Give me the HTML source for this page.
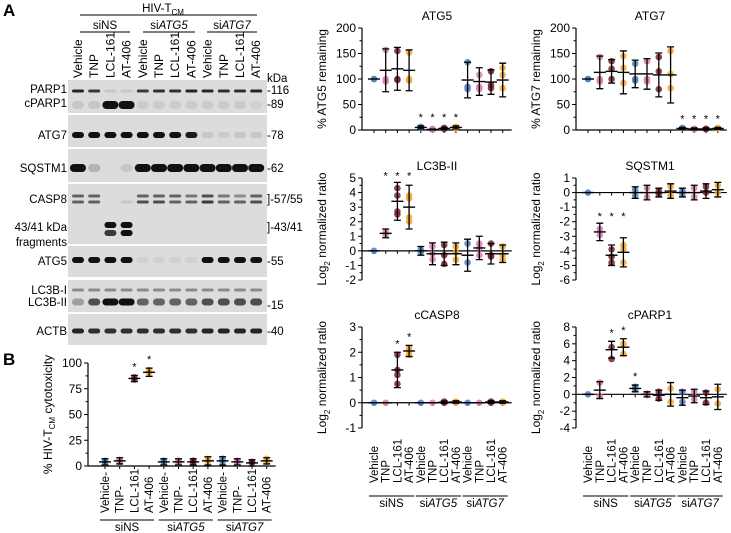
<!DOCTYPE html>
<html><head><meta charset="utf-8"><style>
html,body{margin:0;padding:0;background:#fff;}
svg{display:block;font-family:"Liberation Sans",Arial,sans-serif;}
</style></head><body>
<svg id="fig" width="731" height="533" viewBox="0 0 731 533" xmlns="http://www.w3.org/2000/svg"></svg>
<script>
const NS="http://www.w3.org/2000/svg";
const svg=document.getElementById('fig');
const categories=['Vehicle','TNP','LCL-161','AT-406','Vehicle','TNP','LCL-161','AT-406','Vehicle','TNP','LCL-161','AT-406'];
const groupLabels=['siNS','ATG5','ATG7'];
const colors=['#4f7fbf','#d77bb3','#7a2232','#f0a830'];

// ATG5
const atg5Means=[100,117,120,117,5,1,3,5,98,95,94,98];
const atg5Err=[0,42,42,40,3,1,2,3,35,27,24,33];
const atg5Pts=[[100,100],[157,100,95],[155,100,98],[152,100,97],[6,4,5],[1,1,2],[3,2,4],[5,6,3],[133,85,80],[108,85,80],[115,88,82],[122,108,82]];
const atg5Stars=[4,5,6,7];
const atg5Ticks=[0,50,100,150,200];
// ATG7
const atg7Means=[100,113,115,113,110,110,108,108,3,2,2,3];
const atg7Err=[0,32,23,42,27,30,43,55,2,2,2,2];
const atg7Pts=[[100,100],[143,100,95],[135,120,100],[145,122,92],[130,100,97],[135,100,95],[143,115,80],[155,110,82],[4,3],[2,2],[2,2],[3,4]];
const atg7Stars=[8,9,10,11];
const atg7Ticks=[0,50,100,150,200];
// LC3B-II
const lc3Means=[0,1.2,3.4,3,0,-0.2,-0.2,-0.2,-0.3,0.2,-0.2,-0.2];
const lc3Err=[0,0.3,1.3,1.5,0.3,0.75,0.8,0.75,1.1,0.8,0.7,0.6];
const lc3Pts=[[0],[1.3,1.1],[4.3,3.8,2.7,2.5],[3.8,3.6,2.3,2],[0.1,-0.1],[0.3,-0.6,-0.2],[0.4,-0.9,-0.3],[0.3,-0.6,-0.1],[0.5,-0.8],[0.5,0.2,-0.3],[0.5,-0.4,-0.3],[0.3,-0.6,-0.3]];
const lc3Stars=[1,2,3];
const lc3Ticks=[-2,-1,0,1,2,3,4,5];
// SQSTM1
const sqMeans=[0,-2.7,-4.3,-4.1,0,0,0,0.1,0,0,0.1,0.2];
const sqErr=[0,0.6,0.7,1,0.4,0.5,0.3,0.5,0.3,0.5,0.5,0.5];
const sqPts=[[0],[-2.5,-2.9],[-3.9,-4.4,-4.8],[-3.6,-3.9,-4.8],[0.2,-0.2],[0.3,-0.3],[0.1,-0.1],[0.4,-0.2],[0.1,-0.1],[0.3,-0.3],[0.4,0],[0.5,0]];
const sqStars=[1,2,3];
const sqTicks=[-6,-5,-4,-3,-2,-1,0,1];
// cCASP8
const c8Means=[0,0,1.3,2.05,0,0,0.02,0.03,0,0,0.03,0.03];
const c8Err=[0,0,0.7,0.22,0,0,0.05,0.05,0,0,0.05,0.05];
const c8Pts=[[0],[0],[1.9,1.3,1.1,0.75],[2.15,2.05,1.9],[0],[0],[0.05,0],[0.05,0],[0],[0],[0.05,0],[0.05,0]];
const c8Stars=[2,3];
const c8Ticks=[-1,0,1,2,3];
// cPARP1
const cpMeans=[0,0.5,5.3,5.6,0.7,0,-0.1,0,-0.4,-0.2,-0.4,-0.3];
const cpErr=[0,1,1,1,0.4,0.3,0.6,1.4,0.9,0.8,0.8,1.5];
const cpPts=[[0],[1.4,-0.2],[5.6,4.2],[6,4.8],[0.9,0.6],[0.1,-0.1],[0.3,-0.5],[0.7,-0.9],[0.3,-0.9],[0.3,-0.6],[0.2,-1.0],[0.6,-1.1]];
const cpStars=[2,3,4];
const cpTicks=[-4,-2,0,2,4,6,8];
// Panel B cytotoxicity
const bMeans=[4,5,85,91,4,4,4,5,5,4,3,5];
const bErr=[3,3,3,4,3,3,3,4,4,3,3,3];
const bPts=[[5,3],[6,4],[86,84],[93,90],[5,3],[5,3],[5,3],[7,4],[7,4],[5,3],[4,3],[7,4]];
const bStars=[2,3];
const bTicks=[0,25,50,75,100];

function el(tag,attrs,parent,text){
  const e=document.createElementNS(NS,tag);
  for(const k in attrs) e.setAttribute(k,attrs[k]);
  if(text!==undefined) e.textContent=text;
  (parent||svg).appendChild(e);
  return e;
}

function chart(name,L,means,err,pts,stars,ticks,opt){
  const g=el('g',{},svg);
  
  
  const vmin=ticks[0],vmax=ticks[ticks.length-1];
  const y=v=>L.yb-(v-vmin)/(vmax-vmin)*(L.yb-L.yt);
  const x=i=>L.x0+i*L.dx;
  const ax=L.ax;
  const ya=el('line',{x1:ax,x2:ax,y1:L.yt,y2:L.yb,stroke:'#000','stroke-width':1.2},g);
  
  ticks.forEach((t,k)=>{
    el('line',{x1:ax-4,x2:ax,y1:y(t),y2:y(t),stroke:'#000','stroke-width':1},g);
    if(k<ticks.length-1&&opt.minor) el('line',{x1:ax-2.5,x2:ax,y1:(y(t)+y(ticks[k+1]))/2,y2:(y(t)+y(ticks[k+1]))/2,stroke:'#000','stroke-width':1},g);
    const tl=el('text',{x:ax-6,y:y(t)+4,'text-anchor':'end','font-size':12},g,String(t));
    
  });
  const z=y(opt.base||0);
  const xa=el('line',{x1:ax,x2:x(11)+9,y1:z,y2:z,stroke:'#000','stroke-width':1.2},g);
  
  for(let i=0;i<12;i++) el('line',{x1:x(i),x2:x(i),y1:z,y2:z+3,stroke:'#000','stroke-width':1},g);
  if(opt.title){const t=el('text',{x:opt.tx,y:L.yt-8,'text-anchor':'middle','font-size':12},g,opt.title);
    }
  const yt=el('text',{transform:`translate(${opt.ytx},${(L.yt+L.yb)/2}) rotate(-90)`,'text-anchor':'middle','font-size':12},g);
  
  opt.ytitle(yt);
  for(let i=0;i<12;i++){
    const c=colors[i%4];
    pts[i].forEach(v=>{
      const p=el('circle',{cx:x(i),cy:y(v),r:3.3,fill:c,'fill-opacity':0.85},g);
      
    });
    const m=means[i],e=err[i];
    if(e>0){
      const eb=el('path',{d:`M${x(i)},${y(m+e)}V${y(m-e)}M${x(i)-3.5},${y(m+e)}h7M${x(i)-3.5},${y(m-e)}h7`,stroke:'#000','stroke-width':1.3,fill:'none'},g);
      
    }
    const ml=el('line',{x1:x(i)-6,x2:x(i)+6,y1:y(m),y2:y(m),stroke:'#000','stroke-width':1.4},g);
    
  }
  // star row aligned above the tallest starred bar
  let rowTop=Infinity;
  stars.forEach(i=>{rowTop=Math.min(rowTop,y(means[i]+err[i]));});
  stars.forEach(i=>{
    const sy=opt.starRow?rowTop-(opt.starGap||8):y(means[i]+err[i])-5;
    const s=el('text',{x:x(i),y:sy,'text-anchor':'middle','font-size':11},g,'*');
    
  });
  if(opt.catBottom){
    categories.forEach((c,i)=>{
      const t=el('text',{transform:`translate(${x(i)+4},${opt.catBottom}) rotate(-90)`,'font-size':11.5},g,c+(opt.dash&&i%4<2?'-':''));
      
    });
    for(let gI=0;gI<3;gI++){
      const x1=x(gI*4)-5,x2=x(gI*4+3)+5;
      el('line',{x1:x1,x2:x2,y1:opt.groupY,y2:opt.groupY,stroke:'#000','stroke-width':1},g);
      const t=el('text',{x:(x1+x2)/2,y:opt.groupY+11,'text-anchor':'middle','font-size':11.5},g);
      
      el('tspan',{},t,'si');
      el('tspan',{'font-style':gI?'italic':'normal'},t,gI?groupLabels[gI]:'NS');
    }
  }
}
function logTitle(t){el('tspan',{},t,'Log');el('tspan',{'font-size':8,dy:4},t,'2');el('tspan',{dy:-4},t,' normalized ratio');}

chart('atg5',{ax:362,x0:374,dx:11.7,yt:28,yb:130},atg5Means,atg5Err,atg5Pts,atg5Stars,atg5Ticks,{minor:true,title:'ATG5',tx:437,ytx:326,starRow:true,starGap:5,ytitle:t=>t.textContent='% ATG5 remaining'});
chart('atg7',{ax:576,x0:588,dx:11.8,yt:28,yb:130},atg7Means,atg7Err,atg7Pts,atg7Stars,atg7Ticks,{minor:true,title:'ATG7',tx:650,ytx:540,starRow:true,starGap:5,ytitle:t=>t.textContent='% ATG7 remaining'});
chart('lc3b',{ax:362,x0:374,dx:11.7,yt:178,yb:280},lc3Means,lc3Err,lc3Pts,lc3Stars,lc3Ticks,{minor:true,title:'LC3B-II',tx:437,ytx:326,starRow:true,starGap:3,ytitle:logTitle});
chart('sqstm1',{ax:576,x0:588,dx:11.8,yt:178,yb:280},sqMeans,sqErr,sqPts,sqStars,sqTicks,{minor:true,title:'SQSTM1',tx:650,ytx:540,starRow:true,starGap:3,ytitle:logTitle});
chart('ccasp8',{ax:362,x0:374,dx:11.7,yt:327,yb:428},c8Means,c8Err,c8Pts,c8Stars,c8Ticks,{minor:true,title:'cCASP8',tx:437,ytx:326,ytitle:logTitle,catBottom:483,groupY:496});
chart('cparp1',{ax:576,x0:588,dx:11.8,yt:327,yb:428},cpMeans,cpErr,cpPts,cpStars,cpTicks,{minor:true,title:'cPARP1',tx:650,ytx:540,ytitle:logTitle,catBottom:483,groupY:496});
chart('cytotoxicity',{ax:88,x0:105,dx:14.7,yt:363,yb:466},bMeans,bErr,bPts,bStars,bTicks,{minor:true,ytx:52,dash:true,ytitle:t=>{el('tspan',{},t,'% HIV-T');el('tspan',{'font-size':8,dy:3},t,'CM');el('tspan',{dy:-3},t,' cytotoxicity');},catBottom:513,groupY:520});

const A=el('text',{x:3,y:16,'font-size':17,'font-weight':'bold'},svg,'A');
const B=el('text',{x:3,y:365,'font-size':17,'font-weight':'bold'},svg,'B');

const blot=el('g',{},svg);


const lanes=[...Array(12).keys()].map(i=>78+i*16.2);
const panels=[[80,113],[115,147],[149,182],[184,244],[246,277],[280,312],[314,345]];
panels.forEach(p=>el('rect',{x:68,y:p[0],width:199,height:p[1]-p[0],fill:'#dcdcdc'},blot));
const bandRows=[
 [91,3,[.9,.8,.1,.1,.8,.85,.85,.9,.9,.85,.85,.9]],
 [105,8,[.1,.1,1,1,.08,.08,.08,.08,.08,.08,.08,.05]],
 [135,6,[1,1,1,1,1,1,1,.95,.1,.08,.1,.1]],
 [168,8,[1,.2,0,.1,1,1,1,1,1,1,1,1]],
 [196,3,[.6,.6,0,0,.6,.6,.6,.5,.7,.5,.4,.6]],
 [202,3,[.6,.6,0,.1,.7,.7,.6,.6,.8,.6,.6,.7]],
 [225,6,[0,0,1,1,0,0,0,0,0,0,0,0]],
 [233,6,[0,0,.8,1,0,0,0,0,0,0,0,0]],
 [260,6,[1,1,1,1,.05,.05,.05,.05,1,1,1,1]],
 [290,3,[.4,.4,.4,.4,.4,.4,.4,.4,.4,.4,.4,.4]],
 [302,7,[.3,.7,1,1,.6,.6,.6,.6,.7,.7,.7,.7]],
 [331,5,[.9,.85,.85,.85,.85,.85,.85,.85,.9,.9,.9,.9]]
];
bandRows.forEach(r=>r[2].forEach((v,i)=>{
  if(v<=0)return;
  const w=v>.95&&r[1]>=7?16:12;
  el('rect',{x:lanes[i]-w/2,y:r[0]-r[1]/2,width:w,height:r[1],rx:r[1]/2,fill:'#111','fill-opacity':v},blot);
}));
const leftLabels=[['PARP1',93],['cPARP1',107],['ATG7',139],['SQSTM1',172],['CASP8',203],['43/41 kDa',231],['fragments',246],['ATG5',265],['LC3B-I',294],['LC3B-II',306],['ACTB',335]];
leftLabels.forEach(l=>{const t=el('text',{x:67,y:l[1],'text-anchor':'end','font-size':11.5},blot,l[0]);});
const kdaLabels=[['kDa',82],['-116',94],['-89',108],['-78',139],['-62',172],[']-57/55',203],[']-43/41',231],['-55',265],['-15',309],['-40',335]];
kdaLabels.forEach(l=>{const t=el('text',{x:267,y:l[1],'font-size':11.5},blot,l[0]);});
categories.forEach((c,i)=>{const t=el('text',{transform:`translate(${lanes[i]+4},78) rotate(-90)`,'font-size':12},blot,c);});
el('line',{x1:80,x2:257,y1:15,y2:15,stroke:'#000','stroke-width':1},blot);
const h=el('text',{x:163,y:12,'text-anchor':'middle','font-size':11.5},blot);

el('tspan',{},h,'HIV-T');el('tspan',{'font-size':8,dy:3},h,'CM');
[[80,130,'NS'],[143,195,'ATG5'],[207,257,'ATG7']].forEach((gp,k)=>{
  el('line',{x1:gp[0],x2:gp[1],y1:32,y2:32,stroke:'#000','stroke-width':1},blot);
  const t=el('text',{x:(gp[0]+gp[1])/2,y:29,'text-anchor':'middle','font-size':11.5},blot);
  
  el('tspan',{},t,'si');el('tspan',{'font-style':k?'italic':'normal'},t,gp[2]);
});
</script>
</body></html>
